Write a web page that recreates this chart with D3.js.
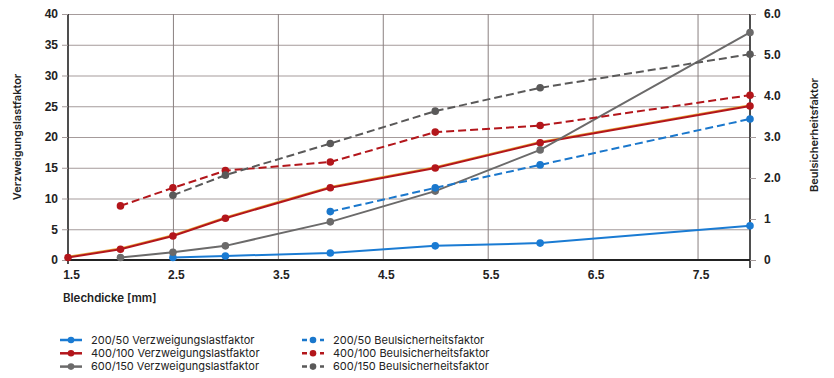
<!DOCTYPE html>
<html>
<head>
<meta charset="utf-8">
<script src="https://cdn.jsdelivr.net/npm/d3@7"></script>
<style>
  body { margin: 0; background: #fff; }
  svg { font-family: Inter, "Noto Sans", sans-serif; }
</style>
</head>
<body>
<div id="chart"></div>
<script>
// x ticks and axis ticks
const xTicks = [1.5, 2.5, 3.5, 4.5, 5.5, 6.5, 7.5];
const leftTicks = [0, 5, 10, 15, 20, 25, 30, 35, 40];
const rightTicks = [0, 1, 2, 3, 4, 5, 6];
const rightTickLabels = ['0', '1', '2.0', '3.0', '4.0', '5.0', '6.0'];

// Verzweigungslastfaktor (left axis)
const x200V = [2.5, 3, 4, 5, 6, 8];
const y200V = [0.4, 0.65, 1.15, 2.3, 2.75, 5.55];
const x400V = [1.5, 2, 2.5, 3, 4, 5, 6, 8];
const y400V = [0.4, 1.75, 3.9, 6.8, 11.75, 14.95, 19.05, 25.05];
const x600V = [2, 2.5, 3, 4, 5, 6, 8];
const y600V = [0.4, 1.25, 2.3, 6.2, 11.2, 17.9, 37.0];

// Beulsicherheitsfaktor (right axis)
const x200B = [4, 5, 6, 8];
const y200B = [1.18, 1.76, 2.32, 3.44];
const x400B = [2, 2.5, 3, 4, 5, 6, 8];
const y400B = [1.32, 1.76, 2.18, 2.39, 3.12, 3.28, 4.02];
const x600B = [2.5, 3, 4, 5, 6, 8];
const y600B = [1.58, 2.07, 2.84, 3.63, 4.2, 5.02];

const series = [
  {name: '200/50 Verzweigungslastfaktor', xs: x200V, ys: y200V, axis: 'L', color: '#1a7bd3', dash: null},
  {name: '400/100 Verzweigungslastfaktor', xs: x400V, ys: y400V, axis: 'L', color: '#b3161b', dash: null, halo: '#e6a43a'},
  {name: '600/150 Verzweigungslastfaktor', xs: x600V, ys: y600V, axis: 'L', color: '#6b6a6a', dash: null},
  {name: '200/50 Beulsicherheitsfaktor', xs: x200B, ys: y200B, axis: 'R', color: '#1a77cc', dash: '8,4'},
  {name: '400/100 Beulsicherheitsfaktor', xs: x400B, ys: y400B, axis: 'R', color: '#b3161b', dash: '8,4'},
  {name: '600/150 Beulsicherheitsfaktor', xs: x600B, ys: y600B, axis: 'R', color: '#5a5959', dash: '8,4'}
];

const width = 834, height = 378;
const margin = {left: 68, right: 84, top: 14, bottom: 118};

const x = d3.scaleLinear().domain([1.5, 8]).range([margin.left, width - margin.right]);
const yL = d3.scaleLinear().domain([0, 40]).range([height - margin.bottom, margin.top]);
const yR = d3.scaleLinear().domain([0, 6]).range([height - margin.bottom, margin.top]);

const svg = d3.select('#chart').append('svg')
  .attr('width', width)
  .attr('height', height);

const gridColor = '#a59b9b';

// horizontal gridlines (left axis)
svg.append('g')
  .attr('transform', 'translate(' + margin.left + ',0)')
  .call(d3.axisLeft(yL).tickValues(leftTicks)
    .tickSize(-(x(8) - x(1.5)))
    .tickFormat(''))
  .call(g => g.select('.domain').remove())
  .call(g => g.selectAll('.tick line').attr('stroke', gridColor).attr('stroke-width', 1));

// vertical gridlines
svg.append('g')
  .attr('transform', 'translate(0,' + yL(0) + ')')
  .call(d3.axisBottom(x).tickValues(xTicks.slice(1))
    .tickSize(-(yL(0) - yL(40)))
    .tickFormat(''))
  .call(g => g.select('.domain').remove())
  .call(g => g.selectAll('.tick line').attr('stroke', '#8a8080').attr('stroke-width', 1));

// left axis
const leftAxis = svg.append('g')
  .attr('transform', 'translate(' + margin.left + ',0)')
  .call(d3.axisLeft(yL).tickValues(leftTicks).tickSize(6).tickPadding(4).tickFormat(d3.format('d')));
leftAxis.select('.domain').attr('d', 'M0,' + yL(40) + 'V' + (yL(0) + 4)).attr('stroke', '#222').attr('stroke-width', 1.6);
leftAxis.selectAll('.tick line').attr('stroke', gridColor);
leftAxis.selectAll('.tick text').attr('font-size', 12).attr('font-weight', 600).attr('fill', '#222');

// right axis
const rightAxis = svg.append('g')
  .attr('transform', 'translate(' + x(8) + ',0)')
  .call(d3.axisRight(yR).tickValues(rightTicks).tickSize(6).tickPadding(8)
    .tickFormat((d, i) => rightTickLabels[i]));
rightAxis.select('.domain').attr('d', 'M0,' + yR(6) + 'V' + (yR(0) + 8)).attr('stroke', '#222').attr('stroke-width', 1.6);
rightAxis.selectAll('.tick line').attr('stroke', gridColor);
rightAxis.selectAll('.tick text').attr('font-size', 12).attr('font-weight', 600).attr('fill', '#222');

// bottom axis
const bottomAxis = svg.append('g')
  .attr('transform', 'translate(0,' + yL(0) + ')')
  .call(d3.axisBottom(x).tickValues(xTicks).tickSize(0).tickPadding(10).tickFormat(d3.format('.1f')));
bottomAxis.select('.domain').attr('d', 'M' + x(1.5) + ',0H' + x(8)).attr('stroke', '#222').attr('stroke-width', 1.8);
bottomAxis.selectAll('.tick text').attr('font-size', 12).attr('font-weight', 600).attr('fill', '#222').attr('dx', 3);

// axis titles
svg.append('text')
  .attr('x', 63).attr('y', 302)
  .attr('font-size', 11.5).attr('font-weight', 600).attr('fill', '#222')
  .text('Blechdicke [mm]');

svg.append('text')
  .attr('transform', 'translate(21,' + 137 + ') rotate(-90)')
  .attr('text-anchor', 'middle')
  .attr('font-size', 11).attr('font-weight', 600).attr('fill', '#222')
  .text('Verzweigungslastfaktor');

svg.append('text')
  .attr('transform', 'translate(818,' + 135 + ') rotate(-90)')
  .attr('text-anchor', 'middle')
  .attr('font-size', 11).attr('font-weight', 600).attr('fill', '#222')
  .text('Beulsicherheitsfaktor');

// series
const lineFor = s => {
  const y = s.axis === 'L' ? yL : yR;
  return d3.line()
    .x((d, i) => x(s.xs[i]))
    .y(d => y(d));
};

series.forEach(s => {
  const y = s.axis === 'L' ? yL : yR;
  const g = svg.append('g');
  if (s.halo) {
    g.append('path')
      .attr('d', lineFor(s)(s.ys))
      .attr('transform', 'translate(0,-1)')
      .attr('fill', 'none')
      .attr('stroke', s.halo)
      .attr('stroke-width', 1.5);
  }
  g.append('path')
    .attr('d', lineFor(s)(s.ys))
    .attr('fill', 'none')
    .attr('stroke', s.color)
    .attr('stroke-width', 2)
    .attr('stroke-dasharray', s.dash);
  g.selectAll('circle')
    .data(s.ys)
    .enter()
    .append('circle')
      .attr('cx', (d, i) => x(s.xs[i]))
      .attr('cy', d => y(d))
      .attr('r', 3.8)
      .attr('fill', s.color);
});

// legend
const legend = svg.append('g').attr('class', 'legend');
series.forEach((s, i) => {
  const col = i < 3 ? 0 : 1;
  const row = i % 3;
  const lx = col === 0 ? 60 : 302;
  const ly = 340 + row * 13.3;
  const item = legend.append('g').attr('transform', 'translate(' + lx + ',' + ly + ')');
  item.append('line')
    .attr('x1', 0).attr('x2', 22)
    .attr('stroke', s.color)
    .attr('stroke-width', 2.5)
    .attr('stroke-dasharray', s.dash ? '5,4' : null);
  item.append('circle')
    .attr('cx', 11).attr('r', 3.3)
    .attr('fill', s.color);
  item.append('text')
    .attr('x', 31).attr('dy', '0.35em')
    .attr('font-size', 11)
    .attr('fill', '#222')
    .text(s.name);
});
</script>
</body>
</html>
